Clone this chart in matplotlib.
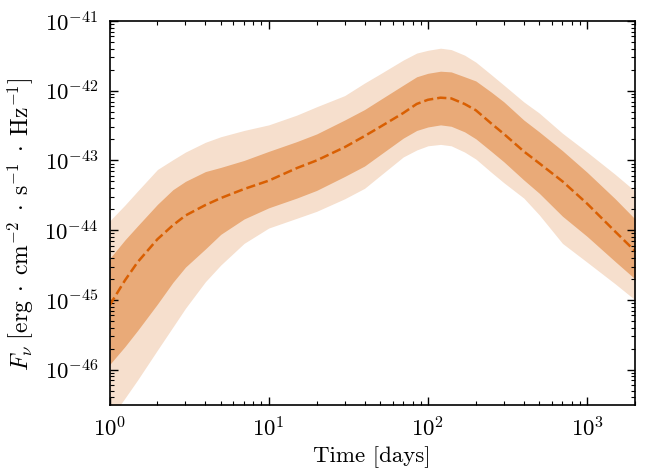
import numpy as np
import matplotlib
matplotlib.use("Agg")
import matplotlib.pyplot as plt

plt.rcParams['font.family'] = 'serif'
plt.rcParams['font.serif'] = ['cmr10']
plt.rcParams['mathtext.fontset'] = 'cm'
plt.rcParams['axes.formatter.use_mathtext'] = True
plt.rcParams['axes.unicode_minus'] = False

# time grid (days)
t = np.array([1, 1.25, 1.5, 2, 2.5, 3, 4, 5, 7, 10, 15, 20, 30, 40, 50, 70, 85,
              100, 120, 140, 170, 200, 250, 300, 400, 500, 700, 1000, 1500, 2000])

# log10 of F_nu
med = np.array([-45.08, -44.72, -44.46, -44.13, -43.93, -43.79, -43.64, -43.54,
                -43.41, -43.29, -43.11, -43.00, -42.81, -42.65, -42.52, -42.32,
                -42.19, -42.13, -42.10, -42.11, -42.19, -42.28, -42.47, -42.62,
                -42.87, -43.04, -43.30, -43.62, -44.02, -44.30])
hi1 = np.array([-44.41, -44.14, -43.94, -43.63, -43.42, -43.30, -43.16, -43.10,
                -43.00, -42.87, -42.73, -42.62, -42.42, -42.27, -42.13, -41.92,
                -41.80, -41.75, -41.72, -41.73, -41.80, -41.86, -42.02, -42.16,
                -42.42, -42.59, -42.86, -43.17, -43.55, -43.84])
lo1 = np.array([-45.93, -45.67, -45.44, -45.06, -44.75, -44.53, -44.27, -44.06,
                -43.84, -43.68, -43.54, -43.43, -43.23, -43.08, -42.92, -42.68,
                -42.57, -42.52, -42.49, -42.51, -42.59, -42.69, -42.87, -43.02,
                -43.28, -43.47, -43.80, -44.09, -44.45, -44.70])
hi2 = np.array([-43.87, -43.64, -43.44, -43.13, -42.99, -42.88, -42.74, -42.66,
                -42.57, -42.49, -42.35, -42.23, -42.07, -41.89, -41.76, -41.56,
                -41.46, -41.42, -41.39, -41.41, -41.49, -41.59, -41.77, -41.92,
                -42.16, -42.32, -42.61, -42.88, -43.20, -43.44])
lo2 = np.array([-46.72, -46.41, -46.15, -45.72, -45.39, -45.12, -44.74, -44.50,
                -44.19, -43.97, -43.83, -43.73, -43.55, -43.40, -43.22, -42.95,
                -42.85, -42.79, -42.77, -42.79, -42.88, -42.98, -43.17, -43.32,
                -43.54, -43.78, -44.19, -44.46, -44.77, -45.00])

fig = plt.figure(figsize=(6.52, 4.68), dpi=100)
ax = fig.add_axes([0.168, 0.1346, 0.806, 0.8205])

ax.fill_between(t, 10**lo2, 10**hi2, color='#f6dfcd', lw=0)
ax.fill_between(t, 10**lo1, 10**hi1, color='#e9aa78', lw=0)
ax.plot(t, 10**med, '--', color='#d95f02', lw=1.8)

ax.set_xscale('log')
ax.set_yscale('log')
ax.set_xlim(1, 2000)
ax.set_ylim(3.1e-47, 1e-41)

ax.set_xlabel('Time [days]', fontsize=16.5, labelpad=4)
ax.set_ylabel(r'$F_\nu\ \left[\mathrm{erg}\;\cdot\;\mathrm{cm}^{-2}\;\cdot\;\mathrm{s}^{-1}\;\cdot\;\mathrm{Hz}^{-1}\right]$',
              fontsize=17, labelpad=8)
ax.yaxis.set_label_coords(-0.14, 0.47)

ax.tick_params(which='both', direction='in', top=True, right=True, labelsize=16.5, pad=8)
ax.tick_params(which='major', length=6, width=1)
ax.tick_params(which='minor', length=3, width=0.8)
for s in ax.spines.values():
    s.set_linewidth(1.2)

plt.savefig('out.png', dpi=100)
